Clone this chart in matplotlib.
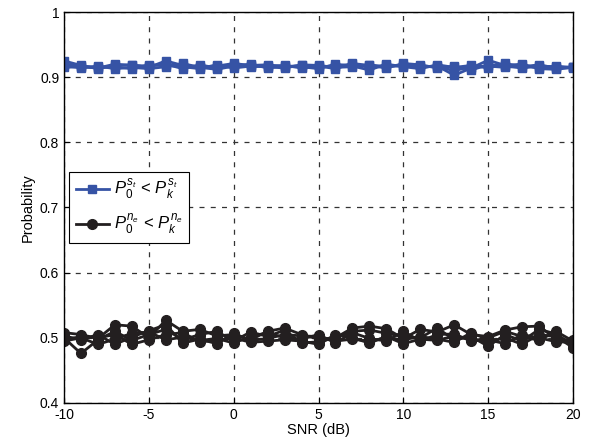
import matplotlib
matplotlib.use("Agg")
import matplotlib.pyplot as plt
import numpy as np

plt.rcParams['font.family'] = ['Liberation Sans', 'DejaVu Sans']
plt.rcParams['mathtext.fontset'] = 'custom'
plt.rcParams['mathtext.it'] = 'Liberation Sans:italic'
plt.rcParams['mathtext.rm'] = 'Liberation Sans'
plt.rcParams['axes.unicode_minus'] = False

# SNR axis
snr = np.arange(-10, 21)

# blue runs (P0^st < Pk^st)
blue_1 = [0.925, 0.918, 0.913, 0.918, 0.919, 0.915, 0.925, 0.918, 0.916, 0.917, 0.921,
          0.918, 0.919, 0.916, 0.918, 0.916, 0.917, 0.920, 0.915, 0.918, 0.917, 0.916,
          0.917, 0.903, 0.914, 0.926, 0.918, 0.920, 0.913, 0.912, 0.915]
blue_2 = [0.915, 0.916, 0.914, 0.920, 0.918, 0.917, 0.920, 0.913, 0.919, 0.914, 0.919,
          0.916, 0.917, 0.918, 0.914, 0.917, 0.913, 0.921, 0.918, 0.914, 0.921, 0.919,
          0.914, 0.917, 0.911, 0.919, 0.917, 0.914, 0.917, 0.916, 0.915]
blue_3 = [0.918, 0.914, 0.917, 0.913, 0.915, 0.913, 0.916, 0.921, 0.915, 0.912, 0.917,
          0.920, 0.914, 0.917, 0.916, 0.913, 0.920, 0.917, 0.911, 0.920, 0.916, 0.913,
          0.919, 0.915, 0.918, 0.914, 0.921, 0.916, 0.919, 0.914, 0.916]
blue_4 = [0.920, 0.917, 0.915, 0.916, 0.913, 0.919, 0.918, 0.916, 0.913, 0.919, 0.914,
          0.917, 0.916, 0.914, 0.919, 0.918, 0.915, 0.916, 0.919, 0.916, 0.918, 0.917,
          0.916, 0.910, 0.916, 0.917, 0.915, 0.918, 0.914, 0.917, 0.914]

# black runs (P0^ne < Pk^ne)
black_1 = [0.508, 0.505, 0.499, 0.520, 0.518, 0.500, 0.527, 0.510, 0.513, 0.503, 0.505,
           0.497, 0.510, 0.515, 0.505, 0.498, 0.500, 0.515, 0.518, 0.514, 0.499, 0.513,
           0.509, 0.520, 0.505, 0.502, 0.512, 0.517, 0.518, 0.498, 0.496]
black_2 = [0.500, 0.476, 0.497, 0.510, 0.496, 0.505, 0.513, 0.497, 0.505, 0.510, 0.495,
           0.509, 0.502, 0.512, 0.492, 0.494, 0.500, 0.510, 0.512, 0.507, 0.502, 0.500,
           0.515, 0.497, 0.502, 0.487, 0.505, 0.495, 0.513, 0.506, 0.489]
black_3 = [0.495, 0.500, 0.490, 0.498, 0.507, 0.509, 0.497, 0.501, 0.496, 0.499, 0.492,
           0.502, 0.508, 0.500, 0.498, 0.505, 0.492, 0.508, 0.499, 0.495, 0.510, 0.495,
           0.505, 0.506, 0.495, 0.500, 0.510, 0.502, 0.496, 0.510, 0.495]
black_4 = [0.503, 0.497, 0.505, 0.490, 0.501, 0.511, 0.520, 0.492, 0.498, 0.491, 0.507,
           0.496, 0.499, 0.505, 0.503, 0.502, 0.495, 0.498, 0.495, 0.500, 0.497, 0.502,
           0.498, 0.493, 0.508, 0.497, 0.491, 0.505, 0.500, 0.494, 0.493]
black_5 = [0.497, 0.502, 0.500, 0.505, 0.490, 0.497, 0.505, 0.508, 0.494, 0.496, 0.500,
           0.493, 0.495, 0.497, 0.495, 0.490, 0.505, 0.500, 0.492, 0.502, 0.491, 0.498,
           0.496, 0.503, 0.497, 0.494, 0.500, 0.490, 0.505, 0.502, 0.485]

blue = '#3653a5'
dark = '#231f20'

fig = plt.figure(figsize=(6.03, 4.47), dpi=100)
ax = fig.add_axes([64/603, 1 - 403/447, 509/603, 391/447])

for i, s in enumerate([blue_1, blue_2, blue_3, blue_4]):
    ax.plot(snr, s, '-s', color=blue, lw=2, ms=6,
            label=r'$P_0^{s_t}\,<\,P_k^{s_t}$' if i == 0 else None)
for i, s in enumerate([black_1, black_2, black_3, black_4, black_5]):
    ax.plot(snr, s, '-o', color=dark, lw=2, ms=7,
            label=r'$P_0^{n_e}\,<\,P_k^{n_e}$' if i == 0 else None)

ax.set_xlim(-10, 20)
ax.set_ylim(0.4, 1.0)
ax.set_xticks(np.arange(-10, 21, 5))
ax.set_yticks(np.arange(0.4, 1.01, 0.1))
ax.set_yticklabels(['0.4', '0.5', '0.6', '0.7', '0.8', '0.9', '1'])
ax.grid(True, color='#333333', linestyle=(0, (4, 5)), linewidth=0.9)
ax.tick_params(direction='in', labelsize=10, length=4)
for sp in ax.spines.values():
    sp.set_linewidth(1.0)
ax.set_xlabel('SNR (dB)', fontsize=10.5, labelpad=1)
ax.set_ylabel('Probability', fontsize=10.5, labelpad=4)

leg = ax.legend(loc='center left', bbox_to_anchor=(0.0, 0.5), fontsize=12,
                fancybox=False, framealpha=1, edgecolor='black',
                handlelength=2.0, borderpad=0.4, labelspacing=0.6, handletextpad=0.3,
                borderaxespad=0.3)
leg.get_frame().set_linewidth(0.8)

fig.savefig('out.png', dpi=100)
